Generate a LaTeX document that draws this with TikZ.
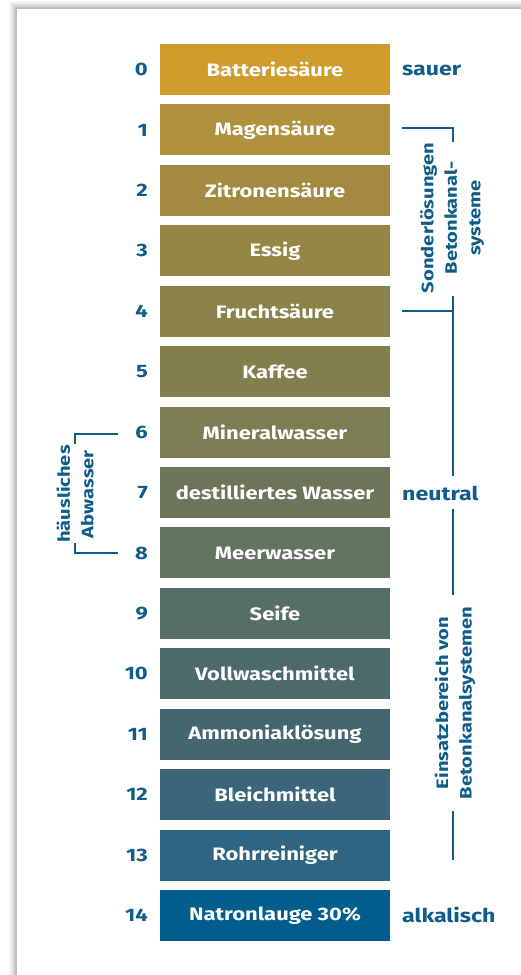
\documentclass[tikz,border=0pt]{standalone}
\usepackage{fontspec}
\setmainfont{Fira Sans}[FakeStretch=1.22]
\definecolor{txtblue}{HTML}{0E5D8A}
\definecolor{c0}{HTML}{CF9C2D}
\definecolor{c1}{HTML}{B0903A}
\definecolor{c2}{HTML}{A38A40}
\definecolor{c3}{HTML}{968645}
\definecolor{c4}{HTML}{8A824A}
\definecolor{c5}{HTML}{827F4E}
\definecolor{c6}{HTML}{7C7D52}
\definecolor{c7}{HTML}{6C7558}
\definecolor{c8}{HTML}{62735F}
\definecolor{c9}{HTML}{566F66}
\definecolor{c10}{HTML}{4B6A6C}
\definecolor{c11}{HTML}{436670}
\definecolor{c12}{HTML}{3B6578}
\definecolor{c13}{HTML}{2E6582}
\definecolor{c14}{HTML}{025D8C}
\tikzset{
  phbox/.style={fill=#1, minimum width=230pt, minimum height=51pt, inner sep=0pt,
    text=white, font=\fontsize{18}{21}\selectfont\bfseries},
  phnum/.style={anchor=east, text=txtblue, inner sep=0pt, font=\fontsize{18}{21}\selectfont\bfseries},
  phlab/.style={anchor=west, text=txtblue, inner sep=0pt, font=\fontsize{19}{22}\selectfont\bfseries},
  rotlab/.style={rotate=90, align=center, text=txtblue, inner sep=0pt,
    font=\fontsize{16.5}{23.5}\selectfont\bfseries},
  brack/.style={draw=txtblue, line width=2.5pt},
}
\begin{document}
\begin{tikzpicture}[x=1pt,y=-1pt]
\useasboundingbox (0,0) rectangle (521,975);
\fill[white] (0,0) rectangle (521,975);
% shadow of panel
\foreach \d/\o in {8/0.04,6/0.06,4/0.08,2/0.10}{
  \fill[black,opacity=\o] (17-\d,9-\d) rectangle (521,975);
}
\fill[white] (17,9) rectangle (521,975);
% boxes
\foreach \i/\t in {0/Batteriesäure,1/Magensäure,2/Zitronensäure,3/Essig,4/Fruchtsäure,
  5/Kaffee,6/Mineralwasser,7/destilliertes Wasser,8/Meerwasser,9/Seife,
  10/Vollwaschmittel,11/Ammoniaklösung,12/Bleichmittel,13/Rohrreiniger,14/Natronlauge 30\%}{
  \node[phbox=c\i] (b\i) at (275,{44+\i*60.43+25.5}) {\t};
  \node[phnum] (n\i) at (148,{44+\i*60.43+25.5}) {\i};
}
% right labels
\node[phlab] (sauer) at (402,70) {sauer};
\node[phlab] (neutral) at (402,493) {neutral};
\node[phlab] (alk) at (402,915) {alkalisch};
% Sonderlösungen bracket
\coordinate (s1) at (402,128);
\coordinate (s2) at (453,128);
\coordinate (s3) at (453,142);
\coordinate (s4) at (453,296);
\coordinate (s5) at (453,311);
\coordinate (s6) at (402,311);
\draw[brack] (s1) -- (s2) -- (s3);
\draw[brack] (s6) -- (s5);
\node[rotlab] (sond) at (452,218) {Sonderlösungen\\Betonkanal-\\systeme};
% Einsatzbereich line
\coordinate (e1) at (453,476);
\coordinate (e2) at (453,509);
\coordinate (e3) at (453,595);
\coordinate (e4) at (453,811);
\coordinate (e5) at (453,860);
\draw[brack] (s4) -- (e1);
\draw[brack] (e2) -- (e3);
\draw[brack] (e4) -- (e5);
\node[rotlab] (einsatz) at (455,703) {Einsatzbereich von\\Betonkanalsystemen};
% häusliches Abwasser bracket
\coordinate (h1) at (118,434);
\coordinate (h2) at (75,434);
\coordinate (h3) at (75,444);
\coordinate (h4) at (75,543);
\coordinate (h5) at (75,553);
\coordinate (h6) at (118,553);
\draw[brack] (h1) -- (h2) -- (h3);
\draw[brack] (h4) -- (h5) -- (h6);
\node[rotlab] (haus) at (75,494) {häusliches\\Abwasser};
\end{tikzpicture}
\end{document}
